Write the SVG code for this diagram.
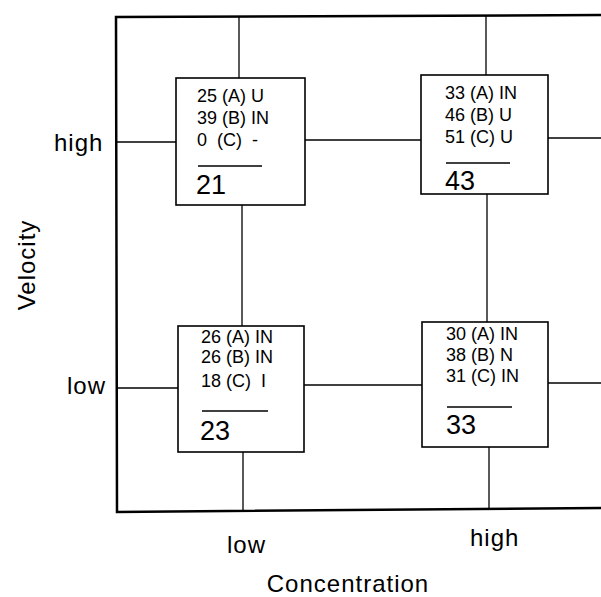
<svg xmlns="http://www.w3.org/2000/svg" width="601" height="597" viewBox="0 0 601 597">
<style>
.frame{fill:none;stroke:#000;stroke-width:2.5}
.conn{fill:none;stroke:#000;stroke-width:1.3}
.box{fill:#fff;stroke:#000;stroke-width:1.6}
.rule{stroke:#000;stroke-width:1.6}
.t{font-family:"Liberation Sans",Arial,sans-serif;font-size:18px;fill:#000;white-space:pre}
.sum{font-family:"Liberation Sans",Arial,sans-serif;font-size:27px;fill:#000}
.lab{font-family:"Liberation Sans",Arial,sans-serif;font-size:24px;fill:#000;letter-spacing:1px}
</style>
<rect width="601" height="597" fill="#fff"/>
<g id="frame">
<path class="frame" d="M601 15 L116 17 L117 512 L601 508"/>
</g>
<g id="connectors">
<line class="conn" x1="239" y1="16" x2="239" y2="78"/>
<line class="conn" x1="486" y1="15" x2="486" y2="75"/>
<line class="conn" x1="242" y1="205" x2="242" y2="326"/>
<line class="conn" x1="487" y1="194" x2="487" y2="322"/>
<line class="conn" x1="243" y1="452" x2="243" y2="511"/>
<line class="conn" x1="489" y1="447" x2="489" y2="509"/>
<line class="conn" x1="117" y1="142" x2="176" y2="142"/>
<line class="conn" x1="305" y1="140" x2="421" y2="140"/>
<line class="conn" x1="548" y1="138" x2="601" y2="138"/>
<line class="conn" x1="117" y1="388" x2="178" y2="388"/>
<line class="conn" x1="304" y1="385" x2="422" y2="385"/>
<line class="conn" x1="548" y1="383" x2="601" y2="383"/>
</g>
<g id="box-low-high">
<rect class="box" x="176" y="78" width="129" height="127"/>
<text class="t" x="197" y="102">25 (A) U</text>
<text class="t" x="197" y="124">39 (B) IN</text>
<text class="t" x="197" y="146">0  (C)  -</text>
<line class="rule" x1="198" y1="166" x2="262" y2="166"/>
<text class="sum" x="196" y="194">21</text>
</g>
<g id="box-high-high">
<rect class="box" x="421" y="75" width="127" height="119"/>
<text class="t" x="445" y="99">33 (A) IN</text>
<text class="t" x="445" y="121">46 (B) U</text>
<text class="t" x="445" y="143">51 (C) U</text>
<line class="rule" x1="446" y1="163" x2="510" y2="163"/>
<text class="sum" x="445" y="190">43</text>
</g>
<g id="box-low-low">
<rect class="box" x="178" y="326" width="126" height="126"/>
<text class="t" x="201" y="343">26 (A) IN</text>
<text class="t" x="201" y="363">26 (B) IN</text>
<text class="t" x="201" y="387">18 (C)  I</text>
<line class="rule" x1="202" y1="411" x2="268" y2="411"/>
<text class="sum" x="200" y="440">23</text>
</g>
<g id="box-high-low">
<rect class="box" x="422" y="322" width="126" height="125"/>
<text class="t" x="446" y="340">30 (A) IN</text>
<text class="t" x="446" y="361">38 (B) N</text>
<text class="t" x="446" y="382">31 (C) IN</text>
<line class="rule" x1="447" y1="407" x2="512" y2="407"/>
<text class="sum" x="446" y="434">33</text>
</g>
<g id="labels">
<text class="lab" x="54" y="151">high</text>
<text class="lab" x="67" y="394">low</text>
<text class="lab" transform="translate(35 265) rotate(-90)" text-anchor="middle">Velocity</text>
<text class="lab" x="227" y="553">low</text>
<text class="lab" x="470" y="546">high</text>
<text class="lab" x="348" y="592" text-anchor="middle">Concentration</text>
</g>
</svg>
